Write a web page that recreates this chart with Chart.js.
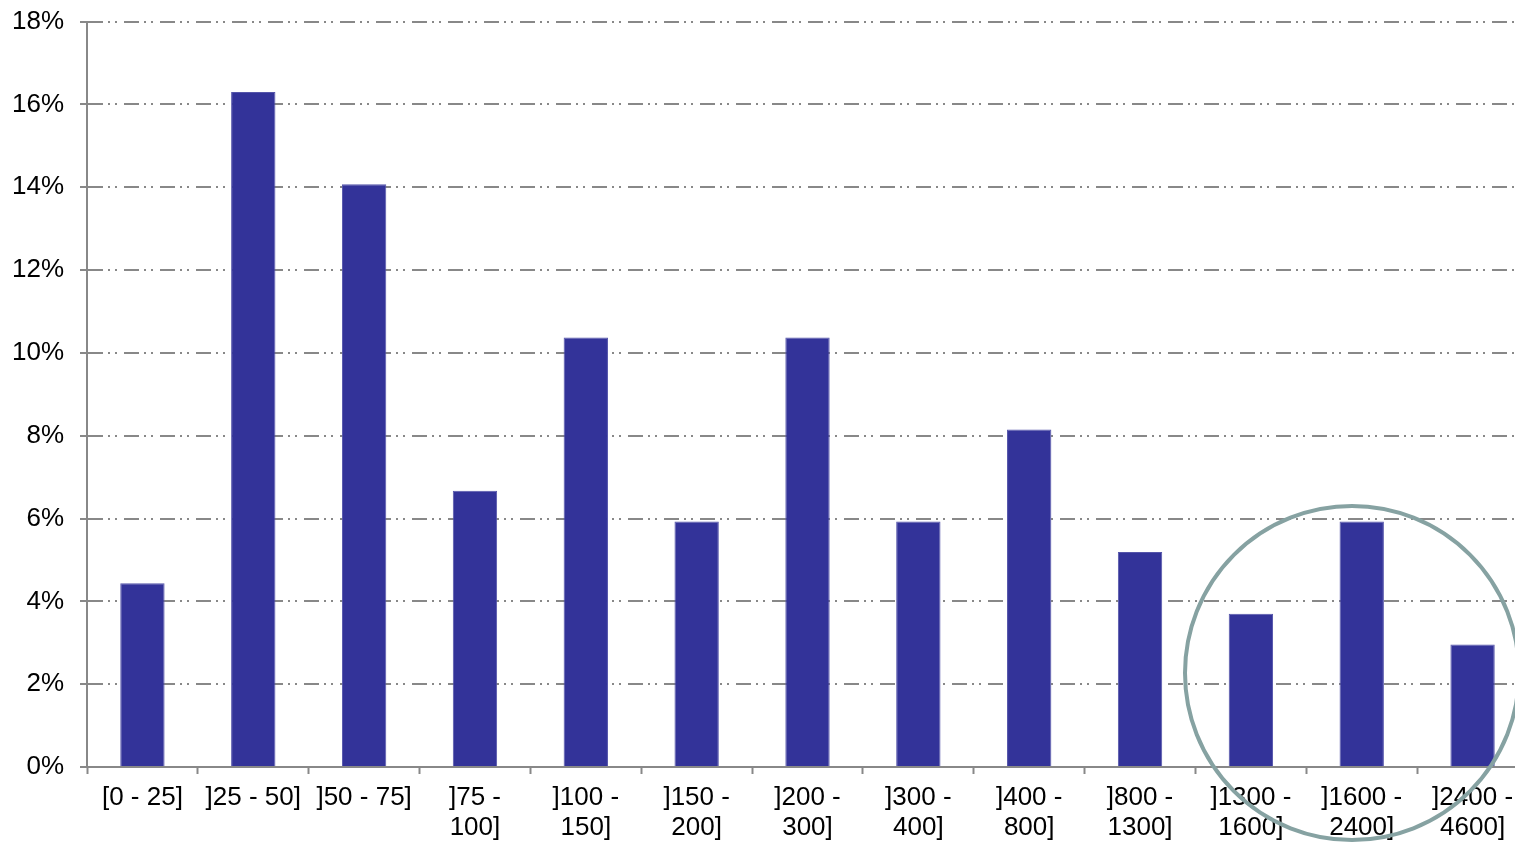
<!DOCTYPE html>
<html>
<head>
<meta charset="utf-8">
<script src="https://cdn.jsdelivr.net/npm/chart.js@4"></script>
<style>
  html, body { margin: 0; padding: 0; background: #fff; overflow: hidden; }
  #wrap { width: 1515px; height: 845px; overflow: hidden; }
  #myChart { display: block; margin-top: -10px; }
</style>
</head>
<body>
<div id="wrap"><canvas id="myChart" width="1528" height="855"></canvas></div>
<script>
// classes (les intervalles)
const labels = [
    ['[0 - 25]'], [']25 - 50]'], [']50 - 75]'],
    [']75 -', '100]'], [']100 -', '150]'], [']150 -', '200]'],
    [']200 -', '300]'], [']300 -', '400]'], [']400 -', '800]'],
    [']800 -', '1300]'], [']1300 -', '1600]'], [']1600 -', '2400]'],
    [']2400 -', '4600]']
];

// part en %
const values = [4.44, 16.30, 14.07, 6.67, 10.37, 5.93, 10.37, 5.93, 8.15, 5.19, 3.70, 5.93, 2.96];

const yTicks = [0, 2, 4, 6, 8, 10, 12, 14, 16, 18];

// le cercle autour des trois dernieres barres (canvas decale de 10px)
const circlePlugin = {
    id: 'circle',
    afterDraw(chart) {
        const ctx = chart.ctx;
        ctx.save();
        ctx.beginPath();
        ctx.arc(1352, 683, 167, 0, Math.PI * 2);
        ctx.lineWidth = 4;
        ctx.strokeStyle = '#86a2a2';
        ctx.stroke();
        ctx.restore();
    }
};

const data = {
    labels: labels,
    datasets: [{
        data: values,
        backgroundColor: '#333399',
        borderColor: '#5555aa',
        borderWidth: 1,
        categoryPercentage: 1,
        barPercentage: 0.4
    }]
};

const config = {
    type: 'bar',
    data: data,
    plugins: [circlePlugin],
    options: {
        responsive: false,
        animation: false,
        layout: { padding: { top: 10, right: 0, left: 0, bottom: 0 } },
        plugins: {
            legend: { display: false },
            tooltip: { enabled: false }
        },
        scales: {
            x: {
                grid: {
                    offset: true,
                    drawOnChartArea: false,
                    drawTicks: true,
                    tickLength: 7,
                    tickColor: '#888',
                    tickWidth: 2
                },
                border: { color: '#888', width: 2 },
                ticks: {
                    color: '#000',
                    font: { family: 'Liberation Sans', size: 26, lineHeight: 1.18 },
                    padding: 8,
                    maxRotation: 0,
                    autoSkip: false
                },
                afterFit: (scale) => { scale.height = 78; }
            },
            y: {
                min: 0,
                max: 18,
                afterBuildTicks: (scale) => {
                    scale.ticks = yTicks.map(v => ({ value: v }));
                },
                grid: {
                    color: '#888',
                    lineWidth: 2,
                    tickLength: 7,
                    tickColor: '#888',
                    tickWidth: 2,
                    tickBorderDash: []
                },
                border: { color: '#888', width: 2, dash: [15, 5, 2, 5, 2, 7] },
                ticks: {
                    color: '#000',
                    font: { family: 'Liberation Sans', size: 26 },
                    padding: 16,
                    callback: (v) => v + '%'
                },
                afterFit: (scale) => { scale.width = 87; }
            }
        }
    }
};

myChart = new Chart(document.getElementById('myChart'), config);
</script>
</body>
</html>
